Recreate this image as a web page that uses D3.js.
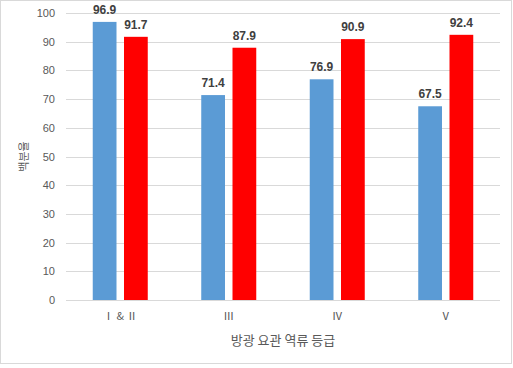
<!DOCTYPE html>
<html><head><meta charset="utf-8">
<script src="https://cdn.jsdelivr.net/npm/d3@7"></script>
<style>body{margin:0;background:#fff}svg{display:block}</style>
</head><body>
<svg id="c" width="513" height="368"></svg>
<script>
const categories = ["Ⅰ & Ⅱ", "Ⅲ", "Ⅳ", "Ⅴ"];
const seriesNames = ["A", "B"];
const seriesA = [96.9, 71.4, 76.9, 67.5];
const seriesB = [91.7, 87.9, 90.9, 92.4];
const yTicks = [0, 10, 20, 30, 40, 50, 60, 70, 80, 90, 100];
const colors = ["#5B9BD5", "#FF0000"];
const xTitle = "방광 요관 역류 등급";
const yTitle = "백분율";

(function () {
const svg = d3.select("#c");
const mLeft = 66, mRight = 500, mTop = 13, mBottom = 300;

svg.append("rect").attr("x", 0.5).attr("y", 0.5).attr("width", 511).attr("height", 363)
  .attr("fill", "#fff").attr("stroke", "#d9d9d9");

const x = d3.scaleBand().domain(categories).range([mLeft, mRight]).paddingInner(0.493).paddingOuter(0.2465);
const xs = d3.scaleBand().domain(seriesNames).range([0, x.bandwidth()]).paddingInner(0.24);
const y = d3.scaleLinear().domain([0, 100]).range([mBottom, mTop]);

const font = "'Liberation Sans', Arial, sans-serif";
const kfont = "'Noto Sans CJK KR', sans-serif";

svg.append("g").selectAll("line").data(yTicks).join("line")
  .attr("x1", mLeft).attr("x2", mRight)
  .attr("y1", d => Math.round(y(d)) + 0.5).attr("y2", d => Math.round(y(d)) + 0.5)
  .attr("stroke", "#d9d9d9").attr("stroke-width", 1);

const yAxis = d3.axisLeft(y).tickValues(yTicks).tickSize(0).tickPadding(11);
const gy = svg.append("g").attr("transform", `translate(${mLeft},0)`).call(yAxis);
gy.select(".domain").remove();
gy.selectAll("text").attr("font-family", font).attr("font-size", 11).attr("fill", "#595959");

const xAxis = d3.axisBottom(x).tickSize(0).tickPadding(12);
const gx = svg.append("g").attr("transform", `translate(0,${mBottom})`).call(xAxis);
gx.select(".domain").remove();
gx.selectAll("text").attr("font-family", kfont).attr("font-size", 11).attr("fill", "#595959");

const data = categories.map((c, i) => ({c, vals: [{s: "A", v: seriesA[i]}, {s: "B", v: seriesB[i]}]}));

const groups = svg.append("g").selectAll("g").data(data).join("g")
  .attr("transform", d => `translate(${x(d.c)},0)`);

groups.selectAll("rect").data(d => d.vals).join("rect")
  .attr("x", d => xs(d.s)).attr("width", xs.bandwidth())
  .attr("y", d => y(d.v)).attr("height", d => y(0) - y(d.v))
  .attr("fill", (d, i) => colors[i]);

groups.selectAll("text").data(d => d.vals).join("text")
  .attr("x", d => xs(d.s) + xs.bandwidth() / 2)
  .attr("y", d => y(d.v) - 8)
  .attr("text-anchor", "middle")
  .attr("font-family", font).attr("font-size", 12).attr("font-weight", "bold")
  .attr("fill", "#404040")
  .text(d => d.v.toFixed(1));

svg.append("text").attr("x", (mLeft + mRight) / 2).attr("y", 345)
  .attr("text-anchor", "middle").attr("font-family", kfont).attr("font-size", 13)
  .attr("fill", "#595959").text(xTitle);

svg.append("text").attr("transform", `translate(28,${(mTop + mBottom) / 2}) rotate(-90)`)
  .attr("text-anchor", "middle").attr("font-family", kfont).attr("font-size", 11)
  .attr("fill", "#595959").text(yTitle);
})();
</script>
</body></html>
